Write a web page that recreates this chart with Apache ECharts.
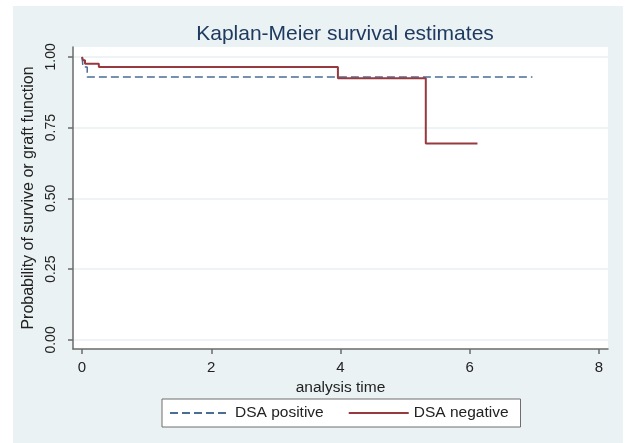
<!DOCTYPE html>
<html>
<head>
<meta charset="utf-8">
<script src="https://cdn.jsdelivr.net/npm/echarts@6/dist/echarts.min.js"></script>
<style>
  html, body { margin: 0; padding: 0; background: #fff; }
  #chart { width: 627px; height: 443px; }
</style>
</head>
<body>
<div id="chart"></div>
<script>
// KM steps: [analysis time, survival]
var dsaPositive = [[0, 1.0], [0.015, 0.964], [0.08, 0.929], [6.97, 0.929]]
var dsaNegative = [[0, 1.0], [0.015, 0.988], [0.046, 0.976], [0.26, 0.964], [3.96, 0.925], [5.32, 0.694], [6.12, 0.694]]
var xTicks = [0, 2, 4, 6, 8]
var yTicks = [0, 0.25, 0.5, 0.75, 1]

var font = 'Liberation Sans, Arial, sans-serif'
var chart = echarts.init(document.getElementById('chart'))
chart.setOption({
  backgroundColor: '#fff',
  animation: false,
  graphic: [{
    type: 'rect',
    z: -10,
    shape: { x: 13, y: 6, width: 610, height: 437 },
    style: { fill: '#eaf2f3' }
  }],
  title: {
    text: 'Kaplan-Meier survival estimates',
    left: 340,
    textAlign: 'center',
    top: 19,
    textStyle: { fontFamily: font, fontSize: 21, fontWeight: 'normal', color: '#1f3a60' }
  },
  grid: {
    left: 73,
    top: 47,
    right: 19,
    bottom: 94,
    show: true,
    backgroundColor: '#fff',
    borderWidth: 0
  },
  legend: {
    left: 162,
    top: 399,
    padding: [6, 12, 6, 7],
    itemGap: 24,
    itemWidth: 60,
    itemHeight: 16,
    backgroundColor: '#fff',
    borderColor: '#6e6e6e',
    borderWidth: 1,
    itemStyle: { opacity: 0 },
    textStyle: { fontFamily: font, fontSize: 15.5, color: '#222' },
    data: ['DSA positive', 'DSA negative']
  },
  xAxis: {
    type: 'value',
    min: -0.14,
    max: 8.14,
    name: 'analysis time',
    nameLocation: 'middle',
    nameGap: 27,
    nameTextStyle: { fontFamily: font, fontSize: 15.5, color: '#222' },
    axisLine: { show: true, onZero: false, lineStyle: { color: '#6b6b6b', width: 1.5 } },
    axisTick: { show: true, length: 5, customValues: xTicks, lineStyle: { color: '#6b6b6b', width: 1.5 } },
    axisLabel: { customValues: xTicks, margin: 11, fontFamily: font, fontSize: 15, color: '#222' },
    splitLine: { show: false }
  },
  yAxis: {
    type: 'value',
    min: -0.032,
    max: 1.035,
    name: 'Probability of survive or graft function',
    nameLocation: 'middle',
    nameGap: 32,
    nameTextStyle: { fontFamily: font, fontSize: 16, color: '#222' },
    axisLine: { show: true, onZero: false, lineStyle: { color: '#6b6b6b', width: 1.5 } },
    axisTick: { show: true, length: 5, customValues: yTicks, lineStyle: { color: '#6b6b6b', width: 1.5 } },
    axisLabel: {
      customValues: yTicks,
      rotate: 90,
      margin: 15,
      fontFamily: font,
      fontSize: 14,
      color: '#222',
      formatter: function (v) { return v.toFixed(2) }
    },
    splitLine: { show: true, lineStyle: { color: '#e8eff2', width: 1.5 } }
  },
  series: [
    {
      name: 'DSA positive',
      type: 'line',
      step: 'end',
      symbol: 'none',
      color: '#4a6d94',
      lineStyle: { color: '#4a6d94', width: 1.5, type: [8, 4] },
      data: dsaPositive
    },
    {
      name: 'DSA negative',
      type: 'line',
      step: 'end',
      symbol: 'none',
      color: '#963a40',
      lineStyle: { color: '#963a40', width: 2 },
      data: dsaNegative
    }
  ]
})
</script>
</body>
</html>
